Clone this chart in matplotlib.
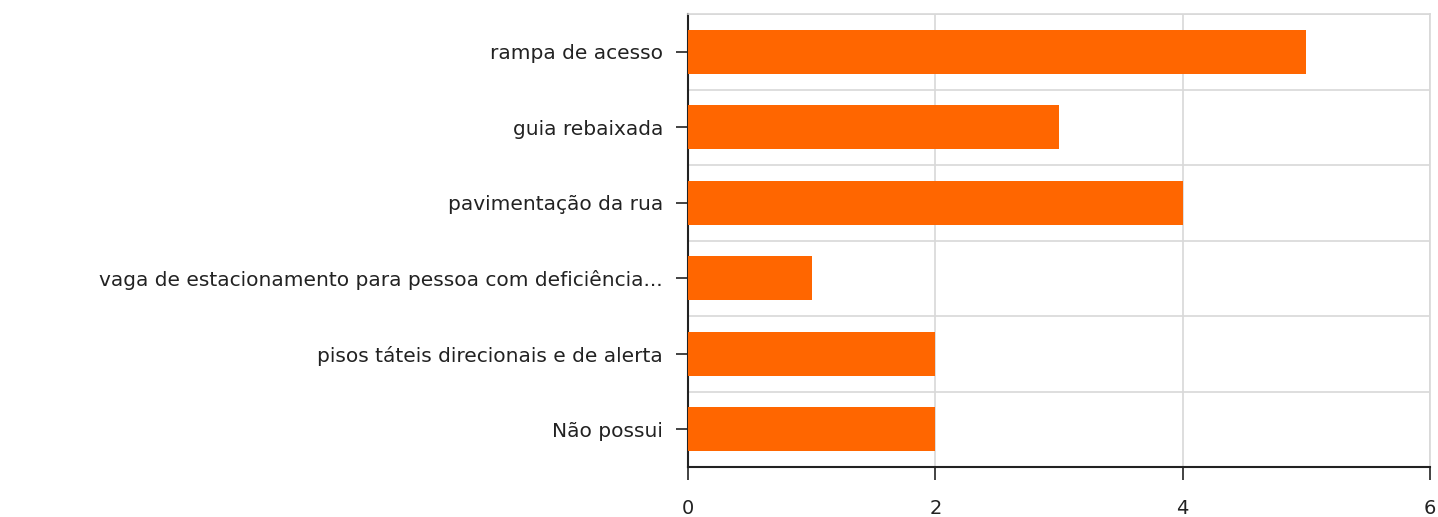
import matplotlib
matplotlib.use("Agg")
import matplotlib.pyplot as plt
import numpy as np

categories = [
    "rampa de acesso",
    "guia rebaixada",
    "pavimentação da rua",
    "vaga de estacionamento para pessoa com deficiência...",
    "pisos táteis direcionais e de alerta",
    "Não possui",
]
counts = [5, 3, 4, 1, 2, 2]
x_ticks = [0, 2, 4, 6]

fig = plt.figure(figsize=(14.38, 5.17), dpi=100)
ax = fig.add_axes([688 / 1438, 1 - 467 / 517, (1430 - 688) / 1438, (467 - 14) / 517])

n = len(categories)
y = np.arange(n)[::-1]
ax.barh(y, counts, height=0.58, color="#FF6600", zorder=3)

ax.set_xlim(0, 6)
ax.set_ylim(-0.5, n - 0.5)
ax.set_xticks(x_ticks)
ax.set_xticklabels([str(t) for t in x_ticks])
ax.set_yticks(y)
ax.set_yticklabels(categories)

# grid: vertical at value ticks, horizontal between category bands
ax.set_yticks(np.arange(-0.5, n, 1.0), minor=True)
ax.grid(axis="x", which="major", color="#d8d8d8", linewidth=1.2, zorder=0)
ax.grid(axis="y", which="minor", color="#d8d8d8", linewidth=1.2, zorder=0)
ax.tick_params(axis="y", which="minor", length=0)

ax.tick_params(axis="y", which="major", length=9, pad=9, width=1.2, color="#222222",
               labelsize=14.5, labelcolor="#222222")
ax.tick_params(axis="x", which="major", length=9, pad=14, width=1.2, color="#222222",
               labelsize=14, labelcolor="#222222")

for side in ("top", "right"):
    ax.spines[side].set_color("#d8d8d8")
    ax.spines[side].set_linewidth(1.2)
for side in ("left", "bottom"):
    ax.spines[side].set_color("#222222")
    ax.spines[side].set_linewidth(1.5)

fig.savefig("out.png", dpi=100)
